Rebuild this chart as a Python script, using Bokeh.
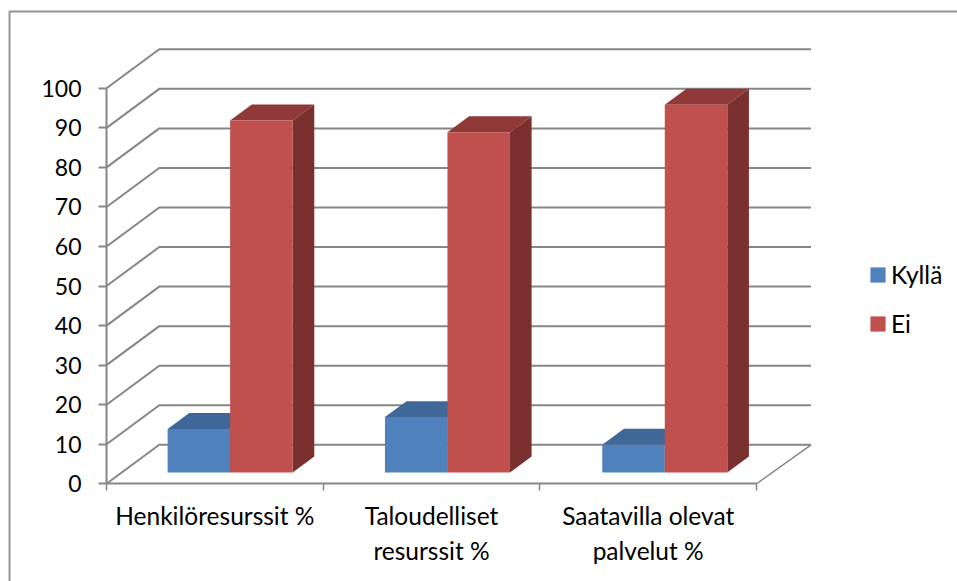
from bokeh.plotting import figure
from bokeh.models import (LinearAxis, FixedTicker, Legend, LegendItem)
from bokeh.embed import file_html
from bokeh.resources import INLINE

# ---- data ----
categories = ["Henkilöresurssit %", "Taloudelliset\nresurssit %", "Saatavilla olevat\npalvelut %"]
kylla = [11, 14, 7]
ei = [89, 86, 93]
value_ticks = [0, 10, 20, 30, 40, 50, 60, 70, 80, 90, 100]
series_names = ["Kyllä", "Ei"]

# ---- style / layout ----
W, H = 957, 581
FONT = "Lato"
FS_VAL = "23px"
FS_TXT = "24.5px"
GRAY = "#868686"
BLUE = ("#4F81BD", "#3F6797", "#3A5F8B")
RED = ("#C0504D", "#8F3A38", "#7A302E")

# oblique projection of depth, expressed in axis units
WALL_DX = 0.2435   # category units of full chart depth
WALL_DY = 9.86     # value units of full chart depth
BACK_W = 1.0027    # back wall is slightly wider per category than the front edge
BAR_PITCH = 1.003  # spacing of bar groups per category
BAR_Z0, BAR_Z1 = 0.29, 0.70   # bar depth within chart
BAR_W = 0.2885     # bar width in category units
PX_X, PX_Y = 216.67, 3.955

x0 = -106 / PX_X
x1 = x0 + W / PX_X
y_top = 483.3 / PX_Y
y_bot = y_top - H / PX_Y

p = figure(width=W, height=H, output_backend="svg", toolbar_location=None,
           x_range=(x0, x1), y_range=(y_bot, y_top),
           x_axis_type=None, y_axis_type=None, min_border=0,
           outline_line_color=None)
p.xgrid.visible = False
p.ygrid.visible = False
p.background_fill_color = "white"
p.border_fill_color = "white"

n = len(categories)

# outer frame of chart area (left and top edges; the rest is cut off by the page)
frame_x = x0 + 9 / PX_X
frame_y = y_top - 11 / PX_Y
p.line([frame_x, frame_x, x1], [y_bot, frame_y, frame_y], line_color="#959595", line_width=2)

# walls: grid lines on back wall and left wall
for v in value_ticks:
    p.line([0, WALL_DX, n * BACK_W + WALL_DX], [v, v + WALL_DY, v + WALL_DY],
           line_color=GRAY, line_width=2)
p.line([n, n * BACK_W + WALL_DX], [0, WALL_DY], line_color=GRAY, line_width=1.5)


def project(x, v, z):
    return x + z * WALL_DX, v + z * WALL_DY


def bar(x_left, value, colors):
    xr = x_left + BAR_W
    # top
    pts = [project(x_left, value, BAR_Z0), project(xr, value, BAR_Z0),
           project(xr, value, BAR_Z1), project(x_left, value, BAR_Z1)]
    p.patch([a for a, _ in pts], [b for _, b in pts], fill_color=colors[1], line_color=None)
    # side
    pts = [project(xr, 0, BAR_Z0), project(xr, value, BAR_Z0),
           project(xr, value, BAR_Z1), project(xr, 0, BAR_Z1)]
    p.patch([a for a, _ in pts], [b for _, b in pts], fill_color=colors[2], line_color=None)
    # front
    xa, ya = project(x_left, 0, BAR_Z0)
    xb, yb = project(xr, value, BAR_Z0)
    return p.quad(left=[xa], right=[xb], bottom=[ya], top=[yb], fill_color=colors[0], line_color=None)


r_blue = r_red = None
for i in range(n):
    xc = 0.5 + i * BAR_PITCH
    r_b = bar(xc - BAR_W, kylla[i], BLUE)
    r_r = bar(xc, ei[i], RED)
    r_blue = r_blue or r_b
    r_red = r_red or r_r

# value axis
yax = LinearAxis(fixed_location=0, ticker=FixedTicker(ticks=value_ticks), bounds=(0, 100),
                 axis_line_color=GRAY, axis_line_width=2,
                 major_tick_line_color=GRAY, major_tick_line_width=2,
                 major_tick_out=8, major_tick_in=0, minor_tick_line_color=None,
                 major_label_standoff=17,
                 major_label_text_font=FONT, major_label_text_font_size=FS_VAL,
                 major_label_text_color="black")
p.add_layout(yax, "left")

# category boundary axis
xax = LinearAxis(fixed_location=0, ticker=FixedTicker(ticks=list(range(n + 1))), bounds=(0, n),
                 axis_line_color=GRAY, axis_line_width=2,
                 major_tick_line_color=GRAY, major_tick_line_width=1.5,
                 major_tick_out=7, major_tick_in=0, minor_tick_line_color=None,
                 major_label_text_font_size="0px", major_label_text_color=None)
p.add_layout(xax, "below")

# category labels
lab = LinearAxis(fixed_location=0, ticker=FixedTicker(ticks=[i + 0.5 for i in range(n)]),
                 major_label_overrides={i + 0.5: c for i, c in enumerate(categories)},
                 axis_line_color=None, major_tick_line_color=None, minor_tick_line_color=None,
                 major_label_standoff=11,
                 major_label_text_font=FONT, major_label_text_font_size=FS_TXT,
                 major_label_text_color="black")
p.add_layout(lab, "below")

legend = Legend(items=[LegendItem(label=series_names[0], renderers=[r_blue]),
                       LegendItem(label=series_names[1], renderers=[r_red])],
                location=(868, 243), orientation="vertical",
                background_fill_alpha=0, border_line_color=None,
                padding=0, margin=0, spacing=20, label_height=22,
                glyph_width=19, glyph_height=19, label_standoff=4,
                label_text_font=FONT, label_text_font_size=FS_TXT, label_text_color="black")
p.add_layout(legend, "center")

open("out.html", "w").write(file_html(p, INLINE))
